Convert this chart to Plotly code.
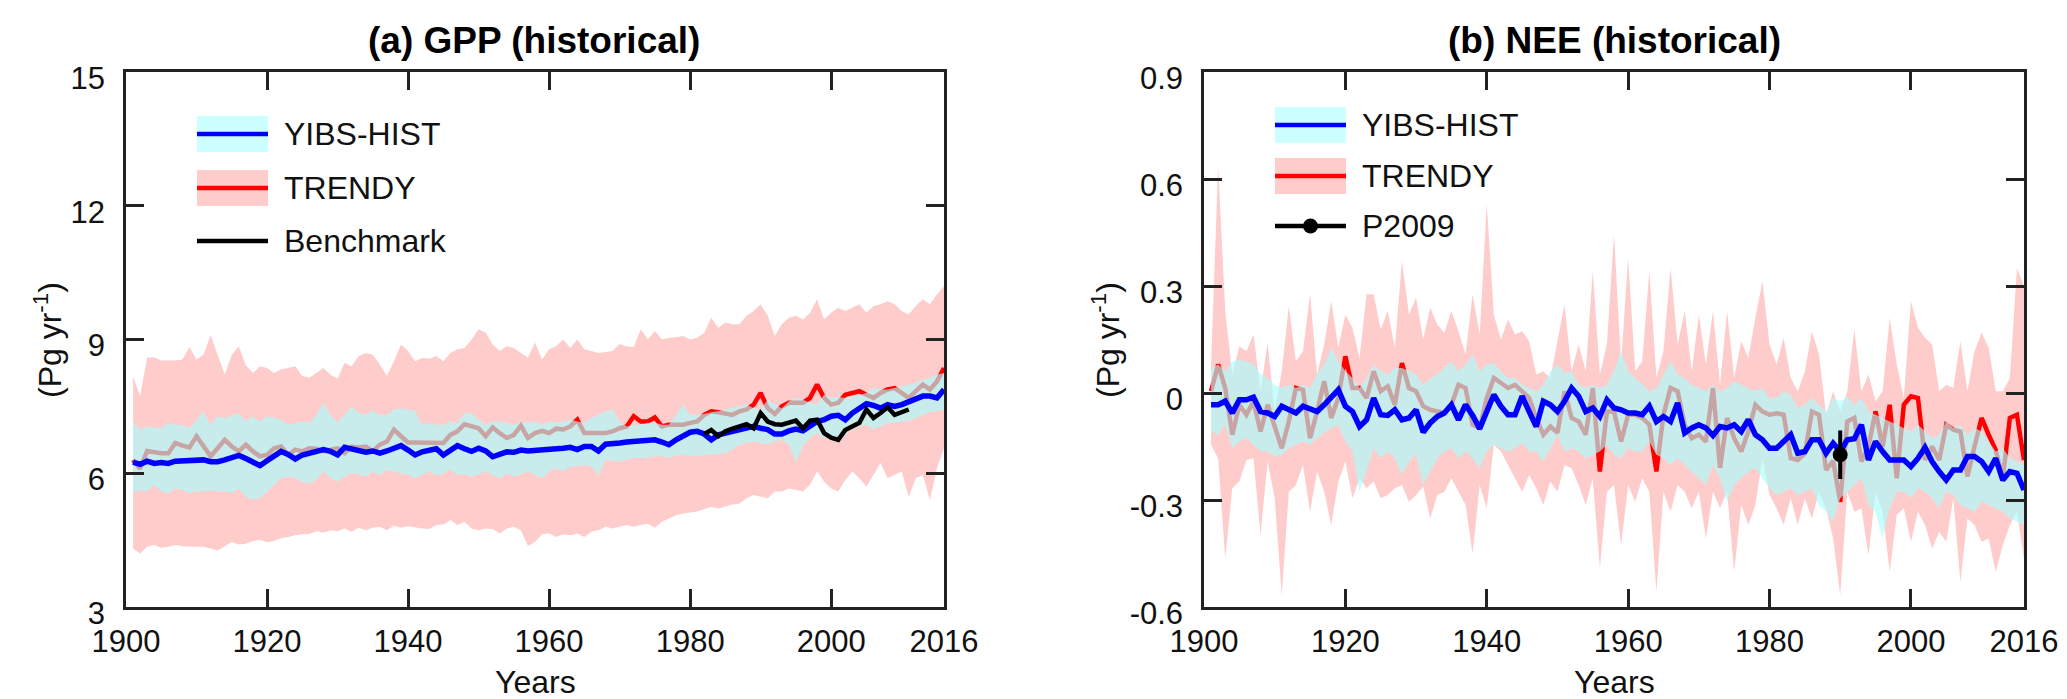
import plotly.graph_objects as go

years = list(range(1901, 2017))
bench_years = list(range(1982, 2012))

# (a) GPP, Pg/yr
gpp_yibs = [6.25, 6.20, 6.27, 6.22, 6.24, 6.22, 6.27, 6.28, 6.28, 6.29,
            6.30, 6.26, 6.26, 6.30, 6.36, 6.40, 6.33, 6.26, 6.17, 6.28,
            6.38, 6.49, 6.42, 6.32, 6.41, 6.45, 6.47, 6.53, 6.49, 6.41,
            6.58, 6.55, 6.50, 6.47, 6.50, 6.45, 6.50, 6.56, 6.62, 6.52,
            6.41, 6.48, 6.52, 6.55, 6.41, 6.50, 6.62, 6.55, 6.49, 6.56,
            6.50, 6.37, 6.42, 6.48, 6.47, 6.52, 6.50, 6.52, 6.53, 6.55,
            6.55, 6.56, 6.58, 6.53, 6.60, 6.60, 6.50, 6.65, 6.65, 6.68,
            6.70, 6.71, 6.75, 6.73, 6.75, 6.70, 6.64, 6.75, 6.83, 6.92,
            6.94, 6.88, 6.75, 6.86, 6.90, 6.94, 7.00, 7.01, 7.05, 7.01,
            6.98, 6.88, 6.88, 6.95, 6.99, 6.95, 7.05, 7.16, 7.20, 7.28,
            7.30, 7.20, 7.35, 7.46, 7.56, 7.52, 7.46, 7.54, 7.50, 7.54,
            7.61, 7.65, 7.73, 7.73, 7.69, 7.88]
gpp_yibs_lo = [5.55, 5.62, 5.59, 5.74, 5.59, 5.55, 5.66, 5.62, 5.55, 5.59,
               5.59, 5.62, 5.59, 5.59, 5.55, 5.66, 5.47, 5.40, 5.44, 5.59,
               5.74, 5.89, 5.92, 5.89, 5.81, 5.77, 5.85, 6.04, 5.89, 5.81,
               5.92, 6.00, 5.98, 5.92, 6.04, 5.96, 6.08, 6.04, 6.00, 5.96,
               5.89, 5.96, 6.04, 5.96, 5.98, 6.08, 5.96, 5.98, 5.92, 5.98,
               6.04, 5.96, 5.89, 6.00, 5.92, 5.98, 6.04, 5.96, 5.89, 6.04,
               6.11, 6.04, 6.15, 6.15, 6.19, 6.15, 5.96, 6.30, 6.28, 6.26,
               6.30, 6.34, 6.34, 6.35, 6.38, 6.38, 6.34, 6.40, 6.41, 6.38,
               6.38, 6.41, 6.41, 6.43, 6.45, 6.53, 6.64, 6.68, 6.71, 6.68,
               6.64, 6.71, 6.75, 6.64, 6.26, 6.60, 6.79, 6.90, 6.79, 6.80,
               6.83, 6.86, 7.01, 7.05, 7.09, 6.98, 7.05, 7.13, 7.13, 7.16,
               7.17, 7.24, 7.31, 7.37, 7.39, 7.43]
gpp_yibs_hi = [7.16, 6.98, 7.05, 7.03, 7.01, 7.13, 7.09, 7.09, 7.01, 7.20,
               7.39, 7.09, 7.28, 7.24, 7.30, 7.35, 7.16, 7.28, 7.16, 7.28,
               7.25, 7.20, 7.09, 7.13, 7.16, 7.13, 7.31, 7.58, 7.31, 7.13,
               7.31, 7.50, 7.35, 7.31, 7.40, 7.31, 7.31, 7.43, 7.46, 7.43,
               7.39, 7.09, 7.13, 7.09, 7.09, 7.16, 7.13, 7.35, 7.35, 7.20,
               7.09, 7.16, 7.16, 7.13, 7.09, 7.16, 7.13, 7.16, 7.09, 7.16,
               7.13, 7.16, 7.20, 7.16, 7.13, 7.24, 7.31, 7.39, 7.43, 7.16,
               7.05, 7.09, 7.09, 7.13, 7.13, 7.09, 7.09, 7.31, 7.54, 7.31,
               7.31, 7.33, 7.37, 7.39, 7.43, 7.46, 7.50, 7.54, 7.46, 7.43,
               7.65, 7.54, 7.46, 7.61, 7.69, 7.65, 7.58, 7.54, 7.76, 7.69,
               7.71, 7.69, 7.73, 7.75, 7.80, 7.91, 7.88, 7.88, 7.91, 7.95,
               7.99, 8.03, 8.10, 8.14, 8.21, 8.25]
gpp_trendy = [6.30, 6.10, 6.50, 6.47, 6.45, 6.45, 6.68, 6.62, 6.58, 6.83,
              6.60, 6.38, 6.56, 6.75, 6.60, 6.49, 6.64, 6.49, 6.38, 6.41,
              6.56, 6.60, 6.41, 6.53, 6.49, 6.56, 6.55, 6.49, 6.53, 6.56,
              6.45, 6.60, 6.58, 6.60, 6.49, 6.64, 6.71, 6.98, 6.83, 6.69,
              6.69, 6.69, 6.70, 6.69, 6.68, 6.86, 6.94, 7.10, 7.05, 7.01,
              6.83, 7.03, 6.90, 6.79, 6.86, 7.07, 6.79, 6.90, 6.95, 6.90,
              7.00, 6.98, 7.05, 7.20, 6.90, 6.90, 6.88, 6.90, 6.94, 7.01,
              7.05, 7.28, 7.16, 7.16, 7.25, 7.05, 7.09, 7.09, 7.09, 7.13,
              7.16, 7.31, 7.39, 7.37, 7.35, 7.31, 7.39, 7.43, 7.54, 7.80,
              7.46, 7.33, 7.50, 7.58, 7.58, 7.58, 7.69, 7.99, 7.69, 7.54,
              7.58, 7.76, 7.80, 7.84, 7.76, 7.69, 7.80, 7.88, 7.91, 7.80,
              7.69, 7.84, 7.99, 7.88, 8.06, 8.36]
gpp_trendy_lo = [4.31, 4.20, 4.35, 4.39, 4.33, 4.35, 4.39, 4.36, 4.35, 4.35,
                 4.35, 4.31, 4.27, 4.37, 4.46, 4.40, 4.42, 4.48, 4.51, 4.45,
                 4.48, 4.54, 4.57, 4.61, 4.63, 4.64, 4.70, 4.67, 4.72, 4.70,
                 4.76, 4.69, 4.78, 4.72, 4.78, 4.80, 4.72, 4.82, 4.78, 4.81,
                 4.78, 4.76, 4.75, 4.84, 4.85, 4.95, 4.84, 4.91, 4.76, 4.72,
                 4.76, 4.75, 4.65, 4.76, 4.80, 4.72, 4.37, 4.46, 4.63, 4.65,
                 4.57, 4.63, 4.61, 4.65, 4.57, 4.69, 4.72, 4.80, 4.76, 4.80,
                 4.84, 4.80, 4.84, 4.87, 4.78, 4.91, 4.99, 5.06, 5.10, 5.12,
                 5.14, 5.20, 5.25, 5.21, 5.25, 5.30, 5.32, 5.44, 5.51, 5.47,
                 5.44, 5.59, 5.59, 5.66, 5.62, 5.59, 5.74, 6.04, 5.81, 5.66,
                 5.59, 5.85, 6.04, 5.89, 5.70, 5.96, 6.23, 5.89, 5.96, 6.04,
                 5.47, 5.89, 5.96, 5.40, 6.11, 6.56]
gpp_trendy_hi = [8.18, 7.73, 8.59, 8.60, 8.53, 8.53, 8.53, 8.55, 8.83, 8.55,
                 8.66, 9.10, 8.66, 8.21, 8.66, 8.85, 8.42, 8.25, 8.40, 8.36,
                 8.25, 8.33, 8.36, 8.40, 8.18, 8.14, 8.25, 8.36, 8.21, 8.12,
                 8.48, 8.40, 8.63, 8.70, 8.66, 8.44, 8.18, 8.51, 8.89, 8.74,
                 8.51, 8.59, 8.57, 8.63, 8.51, 8.70, 8.78, 8.81, 9.00, 9.23,
                 9.15, 8.89, 8.74, 8.85, 8.81, 8.70, 8.59, 8.93, 8.55, 8.78,
                 8.85, 9.00, 8.81, 9.00, 8.78, 8.74, 8.70, 8.72, 8.74, 8.90,
                 8.85, 8.83, 9.23, 9.00, 9.19, 9.00, 9.04, 9.05, 9.08, 9.00,
                 9.04, 9.15, 9.49, 9.26, 9.38, 9.34, 9.34, 9.53, 9.64, 9.79,
                 9.53, 9.08, 9.34, 9.49, 9.53, 9.45, 9.60, 9.90, 9.45, 9.60,
                 9.71, 9.64, 9.71, 9.79, 9.60, 9.75, 9.79, 9.86, 9.79, 9.64,
                 9.56, 9.75, 9.90, 9.79, 10.01, 10.20]
gpp_bench = [6.88, 6.97, 6.83, 6.94, 7.00, 7.05, 7.10, 7.01, 7.35, 7.16,
             7.10, 7.09, 7.13, 7.18, 7.01, 7.18, 7.20, 6.90, 6.80, 6.75,
             6.97, 7.05, 7.13, 7.43, 7.24, 7.35, 7.48, 7.31, 7.37, 7.43]

# (b) NEE, Pg/yr
nee_yibs = [-0.033, -0.033, -0.023, -0.056, -0.019, -0.019, -0.012, -0.052, -0.056, -0.066,
            -0.037, -0.047, -0.056, -0.037, -0.044, -0.052, -0.033, -0.012, 0.009, -0.037,
            -0.052, -0.094, -0.075, -0.014, -0.061, -0.063, -0.047, -0.075, -0.070, -0.047,
            -0.110, -0.084, -0.066, -0.056, -0.033, -0.075, -0.033, -0.063, -0.100, -0.052,
            -0.005, -0.037, -0.061, -0.061, -0.009, -0.052, -0.094, -0.023, -0.033, -0.052,
            -0.023, 0.014, -0.009, -0.052, -0.042, -0.066, -0.019, -0.042, -0.047, -0.056,
            -0.056, -0.061, -0.037, -0.080, -0.066, -0.080, -0.028, -0.112, -0.098, -0.089,
            -0.098, -0.119, -0.094, -0.098, -0.089, -0.108, -0.075, -0.117, -0.131, -0.155,
            -0.155, -0.136, -0.117, -0.169, -0.164, -0.131, -0.131, -0.169, -0.141, -0.164,
            -0.131, -0.128, -0.089, -0.188, -0.136, -0.164, -0.188, -0.188, -0.188, -0.206,
            -0.183, -0.153, -0.192, -0.220, -0.244, -0.216, -0.216, -0.178, -0.178, -0.192,
            -0.220, -0.183, -0.244, -0.220, -0.225, -0.272]
nee_yibs_lo = [-0.108, -0.117, -0.089, -0.155, -0.136, -0.127, -0.145, -0.164, -0.164, -0.178,
               -0.173, -0.155, -0.145, -0.136, -0.145, -0.127, -0.112, -0.098, -0.089, -0.136,
               -0.164, -0.277, -0.220, -0.155, -0.183, -0.164, -0.183, -0.230, -0.192, -0.173,
               -0.258, -0.220, -0.183, -0.164, -0.155, -0.183, -0.164, -0.183, -0.211, -0.164,
               -0.145, -0.155, -0.164, -0.155, -0.141, -0.164, -0.164, -0.192, -0.155, -0.117,
               -0.164, -0.155, -0.164, -0.183, -0.173, -0.164, -0.145, -0.173, -0.183, -0.155,
               -0.164, -0.164, -0.136, -0.173, -0.183, -0.202, -0.183, -0.202, -0.220, -0.239,
               -0.258, -0.202, -0.239, -0.305, -0.258, -0.239, -0.220, -0.211, -0.239, -0.267,
               -0.286, -0.277, -0.267, -0.286, -0.277, -0.267, -0.314, -0.333, -0.361, -0.295,
               -0.277, -0.258, -0.239, -0.314, -0.333, -0.408, -0.323, -0.277, -0.277, -0.295,
               -0.267, -0.277, -0.295, -0.323, -0.277, -0.286, -0.314, -0.323, -0.333, -0.305,
               -0.314, -0.323, -0.333, -0.352, -0.361, -0.370]
nee_yibs_hi = [0.070, 0.080, 0.061, 0.089, 0.094, 0.089, 0.080, 0.052, 0.042, 0.023,
               0.014, 0.023, 0.014, 0.023, 0.014, 0.052, 0.080, 0.127, 0.089, 0.061,
               0.042, 0.014, 0.042, 0.080, 0.061, 0.052, 0.070, 0.070, 0.061, 0.052,
               0.023, 0.042, 0.052, 0.070, 0.089, 0.061, 0.080, 0.108, 0.061, 0.080,
               0.084, 0.061, 0.042, 0.042, 0.023, 0.014, 0.005, 0.023, 0.061, 0.080,
               0.056, 0.061, 0.023, 0.014, 0.023, 0.014, 0.023, 0.061, 0.117, 0.061,
               0.042, 0.023, 0.005, 0.014, 0.052, 0.089, 0.052, 0.042, 0.023, 0.014,
               0.005, 0.023, 0.005, 0.014, 0.033, 0.023, 0.014, 0.005, 0.014, -0.014,
               -0.014, 0.005, -0.005, -0.042, -0.033, -0.014, -0.033, -0.052, -0.014, -0.023,
               -0.009, -0.033, -0.014, -0.052, -0.061, -0.070, -0.080, -0.089, -0.098, -0.108,
               -0.089, -0.108, -0.127, -0.117, -0.080, -0.098, -0.089, -0.117, -0.098, -0.108,
               -0.136, -0.164, -0.155, -0.183, -0.192, -0.202]
nee_trendy = [0.005, 0.080, 0.014, -0.117, -0.033, -0.061, -0.023, -0.108, -0.033, -0.098,
              -0.155, -0.080, 0.014, 0.009, -0.127, -0.052, 0.033, -0.070, -0.014, 0.103,
              0.014, 0.014, -0.014, 0.061, 0.005, 0.019, -0.033, 0.084, 0.014, 0.005,
              -0.037, -0.047, -0.052, -0.056, -0.033, 0.023, 0.014, -0.089, -0.098, -0.014,
              0.042, 0.028, 0.014, 0.023, 0.005, -0.014, -0.070, -0.117, -0.094, -0.112,
              0.005, -0.070, -0.080, -0.117, 0.014, -0.220, -0.052, -0.052, -0.136, -0.061,
              -0.061, -0.070, -0.089, -0.220, -0.061, 0.014, 0.005, -0.089, -0.127, -0.117,
              -0.136, 0.014, -0.210, -0.070, -0.127, -0.164, -0.108, -0.033, -0.052, -0.061,
              -0.057, -0.061, -0.183, -0.188, -0.170, -0.052, -0.061, -0.216, -0.190, -0.305,
              -0.080, -0.070, -0.192, -0.150, -0.052, -0.150, -0.033, -0.239, -0.033, -0.009,
              -0.014, -0.188, -0.150, -0.188, -0.089, -0.103, -0.108, -0.234, -0.150, -0.070,
              -0.117, -0.160, -0.239, -0.070, -0.061, -0.188]
nee_trendy_lo = [-0.145, -0.183, -0.464, -0.267, -0.248, -0.188, -0.183, -0.398, -0.192, -0.295,
                 -0.567, -0.277, -0.258, -0.202, -0.333, -0.220, -0.277, -0.370, -0.248, -0.192,
                 -0.295, -0.239, -0.267, -0.248, -0.295, -0.286, -0.267, -0.258, -0.305, -0.286,
                 -0.262, -0.352, -0.286, -0.277, -0.239, -0.277, -0.314, -0.450, -0.258, -0.323,
                 -0.145, -0.164, -0.202, -0.239, -0.277, -0.230, -0.267, -0.314, -0.248, -0.277,
                 -0.202, -0.211, -0.258, -0.314, -0.239, -0.492, -0.277, -0.258, -0.427, -0.258,
                 -0.305, -0.239, -0.277, -0.558, -0.277, -0.333, -0.258, -0.277, -0.323, -0.277,
                 -0.408, -0.277, -0.323, -0.277, -0.502, -0.314, -0.370, -0.314, -0.183, -0.286,
                 -0.323, -0.370, -0.295, -0.370, -0.295, -0.352, -0.277, -0.323, -0.408, -0.567,
                 -0.277, -0.333, -0.323, -0.455, -0.277, -0.333, -0.502, -0.342, -0.323, -0.417,
                 -0.333, -0.370, -0.436, -0.389, -0.417, -0.295, -0.530, -0.352, -0.370, -0.417,
                 -0.408, -0.502, -0.427, -0.370, -0.333, -0.464]
nee_trendy_hi = [0.080, 0.637, 0.230, 0.052, 0.131, 0.117, 0.164, 0.005, 0.141, -0.052,
                 0.061, 0.244, 0.089, 0.117, 0.277, 0.052, 0.136, 0.258, 0.127, 0.220,
                 0.183, 0.098, 0.277, 0.277, 0.178, 0.230, 0.127, 0.370, 0.220, 0.267,
                 0.150, 0.239, 0.192, 0.169, 0.230, 0.173, 0.108, 0.277, 0.164, 0.530,
                 0.220, 0.150, 0.206, 0.164, 0.173, 0.145, 0.052, 0.061, 0.042, 0.145,
                 0.248, 0.061, 0.136, 0.061, 0.342, 0.052, 0.136, 0.445, 0.080, 0.380,
                 0.061, 0.089, 0.342, 0.042, 0.117, 0.352, 0.136, 0.230, 0.061, 0.220,
                 0.080, 0.230, 0.023, 0.230, 0.042, 0.145, 0.098, 0.211, 0.314, 0.136,
                 0.080, 0.155, 0.042, 0.005, 0.061, 0.173, 0.108, -0.061, 0.005, -0.052,
                 0.005, 0.178, 0.005, 0.052, -0.023, 0.005, 0.211, 0.080, -0.014, 0.258,
                 0.183, 0.155, 0.136, 0.005, 0.023, 0.014, 0.145, 0.005, 0.117, 0.169,
                 0.127, 0.005, 0.005, 0.042, 0.350, 0.300]
p2009_year = [1990]
p2009_val = [-0.173]
p2009_err = [0.068]

FONT = "Liberation Sans, Arial, Helvetica, sans-serif"
W, H = 2067, 699
PINK = "rgb(255,204,204)"
CYAN = "rgba(170,254,254,0.65)"


def band(x, lo, hi, color, xa, ya):
    return go.Scatter(x=x + x[::-1], y=hi + lo[::-1], fill="toself",
                      fillcolor=color, line=dict(width=0), mode="lines",
                      hoverinfo="skip", showlegend=False, xaxis=xa, yaxis=ya)


def line(x, y, color, width, xa, ya):
    return go.Scatter(x=x, y=y, mode="lines", line=dict(color=color, width=width),
                      showlegend=False, xaxis=xa, yaxis=ya)


fig = go.Figure()

# panel a
fig.add_trace(band(years, gpp_trendy_lo, gpp_trendy_hi, PINK, "x", "y"))
fig.add_trace(line(years, gpp_trendy, "red", 4.5, "x", "y"))
fig.add_trace(band(years, gpp_yibs_lo, gpp_yibs_hi, CYAN, "x", "y"))
fig.add_trace(line(years, gpp_yibs, "blue", 5.5, "x", "y"))
fig.add_trace(line(bench_years, gpp_bench, "black", 4.5, "x", "y"))

# panel b
fig.add_trace(band(years, nee_trendy_lo, nee_trendy_hi, PINK, "x2", "y2"))
fig.add_trace(line(years, nee_trendy, "red", 4.5, "x2", "y2"))
fig.add_trace(band(years, nee_yibs_lo, nee_yibs_hi, CYAN, "x2", "y2"))
fig.add_trace(line(years, nee_yibs, "blue", 5.5, "x2", "y2"))
fig.add_trace(go.Scatter(x=p2009_year, y=p2009_val, mode="markers",
                         marker=dict(color="black", size=15),
                         error_y=dict(type="data", array=p2009_err, color="black",
                                      thickness=4, width=0),
                         showlegend=False, xaxis="x2", yaxis="y2"))


def px_x(p):
    return p / W


def px_y(p):
    return 1 - p / H


axis_common = dict(showline=True, linewidth=2.5, linecolor="#222", mirror="ticks",
                   ticks="inside", ticklen=18, tickwidth=2.5, tickcolor="#222",
                   showgrid=False, zeroline=False, automargin=False,
                   tickfont=dict(family=FONT, size=31, color="#111"))

ydom = [px_y(599), px_y(64)]
fig.update_layout(
    template="none",
    width=W, height=H, margin=dict(l=0, r=0, t=0, b=0, pad=0),
    paper_bgcolor="white", plot_bgcolor="white", showlegend=False,
    xaxis=dict(domain=[px_x(118), px_x(936)], range=[1900, 2016], anchor="y",
               tickvals=[1900, 1920, 1940, 1960, 1980, 2000, 2016],
               ticklabelstandoff=5, **axis_common),
    yaxis=dict(domain=ydom, range=[3, 15], anchor="x",
               tickvals=[3, 6, 9, 12, 15], ticklabelstandoff=12, ticklabelshift=6,
               **axis_common),
    xaxis2=dict(domain=[px_x(1196), px_x(2016)], range=[1900, 2016], anchor="y2",
                tickvals=[1900, 1920, 1940, 1960, 1980, 2000, 2016],
                ticklabelstandoff=5, **axis_common),
    yaxis2=dict(domain=ydom, range=[-0.6, 0.9], anchor="x2",
                tickvals=[-0.6, -0.3, 0, 0.3, 0.6, 0.9],
                ticktext=["-0.6", "-0.3", "0", "0.3", "0.6", "0.9"],
                ticklabelstandoff=12, ticklabelshift=6, **axis_common),
)

ann = []
ann.append(dict(text="<b>(a) GPP (historical)</b>", x=px_x(526), y=px_y(33)))
ann.append(dict(text="<b>(b) NEE (historical)</b>", x=px_x(1606), y=px_y(33)))
for a in ann:
    a.update(xref="paper", yref="paper", showarrow=False, xanchor="center",
             yanchor="middle", font=dict(family=FONT, size=37, color="black"))
for cx in (527, 1606):
    ann.append(dict(text="Years", x=px_x(cx), y=px_y(674), xref="paper", yref="paper",
                    showarrow=False, xanchor="center", yanchor="middle",
                    font=dict(family=FONT, size=32, color="#111")))
for cx in (40, 1098):
    ann.append(dict(text="(Pg yr<sup>-1</sup>)", x=px_x(cx), y=px_y(332), textangle=-90,
                    xref="paper", yref="paper", showarrow=False, xanchor="center",
                    yanchor="middle", font=dict(family=FONT, size=32, color="#111")))

# legends drawn by hand: band swatch with line through it
shapes = []


def legend_entry(x0, x1, yc, band_color, line_color, label, dot=False):
    if band_color:
        shapes.append(dict(type="rect", xref="paper", yref="paper", x0=px_x(x0), x1=px_x(x1),
                           y0=px_y(yc + 18), y1=px_y(yc - 18), fillcolor=band_color,
                           line=dict(width=0), layer="above"))
    shapes.append(dict(type="line", xref="paper", yref="paper", x0=px_x(x0), x1=px_x(x1),
                       y0=px_y(yc), y1=px_y(yc), line=dict(color=line_color, width=4.5),
                       layer="above"))
    if dot:
        xm = (x0 + x1) / 2
        shapes.append(dict(type="circle", xref="paper", yref="paper",
                           x0=px_x(xm - 7.5), x1=px_x(xm + 7.5),
                           y0=px_y(yc + 7.5), y1=px_y(yc - 7.5),
                           fillcolor="black", line=dict(width=0), layer="above"))
    ann.append(dict(text=label, x=px_x(x1 + 14), y=px_y(yc), xref="paper", yref="paper",
                    showarrow=False, xanchor="left", yanchor="middle",
                    font=dict(family=FONT, size=32, color="#111")))


legend_entry(189, 260, 126, "rgb(204,255,255)", "blue", "YIBS-HIST")
legend_entry(189, 260, 180, PINK, "red", "TRENDY")
legend_entry(189, 260, 233, None, "black", "Benchmark")
legend_entry(1267, 1338, 117, "rgb(204,255,255)", "blue", "YIBS-HIST")
legend_entry(1267, 1338, 168, PINK, "red", "TRENDY")
legend_entry(1267, 1338, 218, None, "black", "P2009", dot=True)

fig.update_layout(annotations=ann, shapes=shapes)

fig.write_html("out.html")
